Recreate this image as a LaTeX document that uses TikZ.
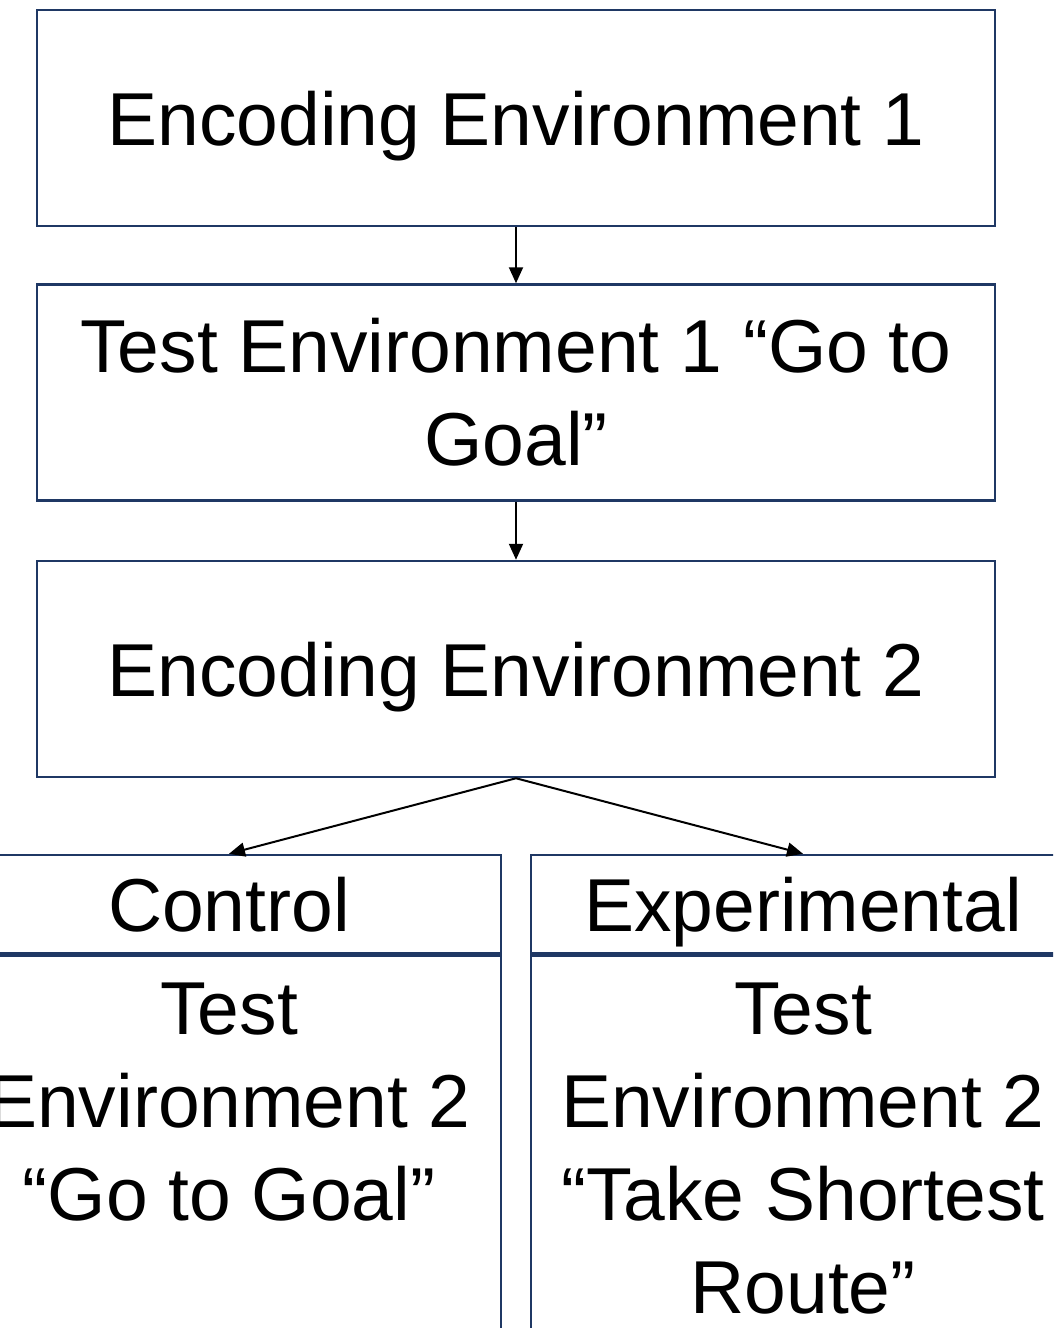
\documentclass[tikz,border=0pt]{standalone}
\usepackage{fontspec}
\setmainfont{Liberation Sans}
\usepackage{xcolor}
\usetikzlibrary{arrows.meta,positioning}
\definecolor{boxblue}{RGB}{31,56,100}

\begin{document}
\begin{tikzpicture}[
  x=1pt, y=1pt,
  font=\fontsize{75}{93}\selectfont,
  box/.style={draw=boxblue, line width=2.5pt, align=center, inner sep=0pt, minimum width=958pt, minimum height=216pt},
  half/.style={draw=boxblue, line width=2.5pt, align=center, inner sep=0pt, minimum width=544pt},
  oneline/.style={text height=54pt, text depth=0pt},
  arr/.style={-{Triangle[length=16pt,width=14pt]}, line width=2pt}
]
\useasboundingbox (0,0) rectangle (1053,-1328);
\clip (0,0) rectangle (1053,-1328);
\node[box, oneline] (enc1) at (516,-118) {Encoding Environment 1};
\node[box, below=56pt of enc1] (test1) {Test Environment 1 “Go to\\Goal”};
\node[box, oneline, below=58pt of test1] (enc2) {Encoding Environment 2};
\node[half, oneline, minimum height=98pt] (ctrlhead) at (229,-904) {Control};
\node[half, oneline, minimum height=98pt] (exphead) at (803,-904) {Experimental};
\node[half, minimum height=450pt, below=0pt of ctrlhead] (ctrlbody) {};
\node[half, minimum height=450pt, below=0pt of exphead] (expbody) {};
\node[align=center, inner sep=0pt, anchor=north, below=28pt of ctrlbody.north] (ctrltext) {Test\\Environment 2\\“Go to Goal”};
\node[align=center, inner sep=0pt, anchor=north, below=28pt of expbody.north] (exptext) {Test\\Environment 2\\“Take Shortest\\Route”};
\draw[arr] (enc1) -- (test1);
\draw[arr] (test1) -- (enc2);
\draw[arr] (enc2.south) -- (ctrlhead.north);
\draw[arr] (enc2.south) -- (exphead.north);
\end{tikzpicture}
\end{document}
